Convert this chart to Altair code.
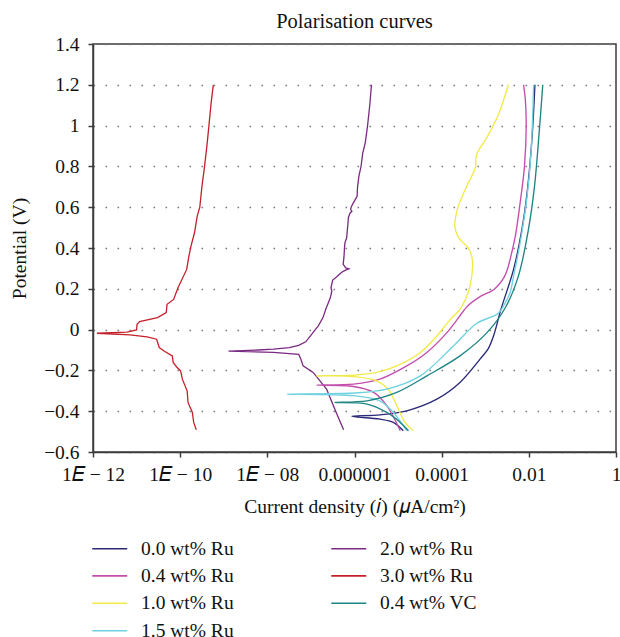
import altair as alt
import pandas as pd

# Series names and line colours
SERIES = ["0.0 wt% Ru", "0.4 wt% Ru", "1.0 wt% Ru", "1.5 wt% Ru",
          "2.0 wt% Ru", "3.0 wt% Ru", "0.4 wt% VC"]
COLORS = ["#2a2a78", "#c24ead", "#f2ea48", "#70d2e0",
          "#7a2a82", "#c4202a", "#1f8484"]

# Potential sweep (V) and log10 of current density for each alloy,
# listed in sweep order from the cathodic end upwards.
ru00_E = [-0.496, -0.455, -0.439, -0.425, -0.418, -0.398, -0.341, -0.259,
          -0.145, -0.093, -0.031, 0.099, 0.295, 0.49, 0.67, 0.93, 1.2]
ru00_logi = [-4.88, -5.11, -5.41, -6.06, -5.41, -4.80, -4.11, -3.58,
             -3.12, -2.93, -2.81, -2.64, -2.35, -2.16, -2.04, -1.93, -1.86]

ru04_E = [-0.496, -0.373, -0.308, -0.279, -0.272, -0.267, -0.243, -0.178,
          -0.112, -0.015, 0.091, 0.115, 0.164, 0.197, 0.26, 0.311, 0.344,
          0.458, 0.621, 0.80, 1.012, 1.126, 1.2]
ru04_logi = [-4.95, -5.26, -5.56, -6.02, -6.87, -6.02, -5.42, -4.80,
             -4.34, -3.88, -3.50, -3.41, -3.10, -2.80, -2.56, -2.47, -2.43,
             -2.31, -2.20, -2.10, -2.06, -2.08, -2.12]

ru10_E = [-0.496, -0.455, -0.373, -0.292, -0.251, -0.23, -0.227, -0.223,
          -0.21, -0.178, -0.112, -0.031, 0.05, 0.099, 0.15, 0.213, 0.311,
          0.36, 0.401, 0.43, 0.458, 0.507, 0.55, 0.604, 0.71, 0.792, 0.857,
          0.939, 1.053, 1.2]
ru10_logi = [-4.65, -4.84, -5.03, -5.23, -5.49, -6.02, -6.87, -6.02,
             -5.49, -5.03, -4.49, -4.11, -3.80, -3.58, -3.45, -3.35, -3.29,
             -3.31, -3.39, -3.53, -3.63, -3.70, -3.68, -3.62, -3.41, -3.23,
             -3.20, -2.97, -2.70, -2.47]

ru15_E = [-0.496, -0.406, -0.349, -0.324, -0.316, -0.311, -0.292, -0.227,
          -0.08, 0.03, 0.08, 0.132, 0.181, 0.262, 0.425, 0.653, 0.866, 1.2]
ru15_logi = [-4.80, -5.11, -5.42, -6.02, -7.55, -6.02, -5.26, -4.49,
             -3.73, -3.20, -2.70, -2.54, -2.43, -2.35, -2.20, -2.04, -1.95,
             -1.89]

ru20_E = [-0.491, -0.406, -0.292, -0.21, -0.178, -0.145, -0.121, -0.112,
          -0.106, -0.100, -0.096, -0.088, -0.077, -0.06, -0.031, 0.0, 0.018,
          0.06, 0.10, 0.132, 0.16, 0.189, 0.205, 0.243, 0.26, 0.28, 0.29,
          0.298, 0.302, 0.32, 0.36, 0.40, 0.425, 0.45, 0.474, 0.52, 0.55,
          0.572, 0.58, 0.59, 0.604, 0.62, 0.653, 0.70, 0.751, 0.80, 0.866,
          0.90, 0.92, 1.0, 1.1, 1.2]
ru20_logi = [-6.25, -6.42, -6.64, -6.95, -7.18, -7.23, -7.28, -7.86,
             -8.89, -8.20, -7.86, -7.50, -7.28, -7.12, -7.01, -6.90, -6.83,
             -6.72, -6.66, -6.60, -6.55, -6.52, -6.54, -6.50, -6.40, -6.30,
             -6.22, -6.13, -6.20, -6.26, -6.24, -6.23, -6.22, -6.18, -6.17,
             -6.15, -6.14, -6.10, -6.06, -6.09, -6.07, -6.03, -5.94, -5.93,
             -5.90, -5.85, -5.81, -5.77, -5.75, -5.70, -5.65, -5.61]

ru30_E = [-0.491, -0.455, -0.406, -0.357, -0.30, -0.243, -0.202, -0.186,
          -0.161, -0.129, -0.105, -0.088, -0.047, -0.036, -0.026, -0.018,
          -0.012, -0.002, 0.026, 0.039, 0.059, 0.083, 0.124, 0.148, 0.205,
          0.295, 0.36, 0.41, 0.476, 0.555, 0.6, 0.702, 0.8, 0.914, 1.0,
          1.11, 1.2]
ru30_logi = [-9.63, -9.69, -9.72, -9.82, -9.84, -9.95, -9.99, -10.07,
             -10.16, -10.18, -10.37, -10.48, -10.54, -10.76, -11.15, -11.91,
             -11.22, -11.00, -10.99, -10.93, -10.52, -10.32, -10.30, -10.15,
             -10.05, -9.85, -9.80, -9.75, -9.67, -9.61, -9.55, -9.50, -9.44,
             -9.38, -9.34, -9.29, -9.24]

vc04_E = [-0.496, -0.455, -0.406, -0.365, -0.357, -0.349, -0.308, -0.227,
          -0.129, -0.015, 0.107, 0.262, 0.49, 0.702, 0.947, 1.2]
vc04_logi = [-4.76, -4.95, -5.26, -5.71, -6.45, -5.71, -5.03, -4.34,
             -3.58, -2.96, -2.54, -2.24, -2.01, -1.87, -1.77, -1.68]

curves = {
    "0.0 wt% Ru": (ru00_E, ru00_logi),
    "0.4 wt% Ru": (ru04_E, ru04_logi),
    "1.0 wt% Ru": (ru10_E, ru10_logi),
    "1.5 wt% Ru": (ru15_E, ru15_logi),
    "2.0 wt% Ru": (ru20_E, ru20_logi),
    "3.0 wt% Ru": (ru30_E, ru30_logi),
    "0.4 wt% VC": (vc04_E, vc04_logi),
}

rows = []
for name, (pot, logi) in curves.items():
    for k, (e, li) in enumerate(zip(pot, logi)):
        rows.append({"series": name, "step": k, "E": e, "i": 10.0 ** li})
df = pd.DataFrame(rows)

X_TICKS = [1e-12, 1e-10, 1e-8, 1e-6, 1e-4, 1e-2, 1.0]
X_LABELS = ["1𝐸 − 12", "1𝐸 − 10", "1𝐸 − 08", "0.000001", "0.0001", "0.01", "1"]
Y_TICKS = [-0.6, -0.4, -0.2, 0.0, 0.2, 0.4, 0.6, 0.8, 1.0, 1.2, 1.4]

FONT = "Liberation Serif"
AXIS_COLOR = "#3c3c3c"

label_array = "[" + ",".join("'" + s + "'" for s in X_LABELS) + "]"

x_enc = alt.X(
    "i:Q",
    scale=alt.Scale(type="log", domain=[1e-12, 1.0]),
    axis=alt.Axis(
        values=X_TICKS,
        labelExpr=label_array + "[round(log(datum.value)/LN10/2 + 6)]",
        title="Current density (𝑖) (𝜇A/cm²)",
        grid=False,
        labelOverlap=False,
        labelFlush=False,
        labelBound=False,
        labelPadding=8,
        titlePadding=14,
    ),
)
y_enc = alt.Y(
    "E:Q",
    scale=alt.Scale(domain=[-0.6, 1.4], nice=False, zero=False),
    axis=alt.Axis(
        values=Y_TICKS,
        format="~g",
        title="Potential (V)",
        grid=True,
        gridDash=[1.6, 10.4],
        gridColor="#7a7a7a",
        gridWidth=1.6,
        labelOverlap=False,
        labelFlush=False,
        labelPadding=9,
        titlePadding=14,
    ),
)
color_enc = alt.Color(
    "series:N",
    scale=alt.Scale(domain=SERIES, range=COLORS),
    legend=alt.Legend(
        title=None,
        orient="none",
        legendX=-2,
        legendY=494.5,
        direction="vertical",
        columns=2,
        columnPadding=94,
        rowPadding=7.4,
        padding=0,
        symbolType="M-1,0H3",
        symbolSize=306,
        symbolStrokeWidth=1.6,
        labelOffset=30,
        labelFont=FONT,
        labelFontSize=19.5,
        labelColor="#111111",
    ),
)

base = alt.Chart(df).encode(
    x=x_enc, y=y_enc, color=color_enc, order=alt.Order("step:Q"),
    detail="series:N",
)

smooth = base.transform_filter(
    alt.FieldOneOfPredicate(field="series", oneOf=["0.0 wt% Ru", "0.4 wt% Ru",
                                                  "1.0 wt% Ru", "1.5 wt% Ru",
                                                  "0.4 wt% VC"])
).mark_line(strokeWidth=1.35, interpolate="catmull-rom")

rough = base.transform_filter(
    alt.FieldOneOfPredicate(field="series", oneOf=["2.0 wt% Ru", "3.0 wt% Ru"])
).mark_line(strokeWidth=1.3, interpolate="linear")

chart = (
    alt.layer(rough, smooth)
    .properties(
        width=523,
        height=408,
        title=alt.TitleParams(
            "Polarisation curves", font=FONT, fontSize=20.5, fontWeight="normal",
            color="#111111", anchor="middle", offset=2,
        ),
        autosize=alt.AutoSizeParams(type="none"),
        padding={"left": 93, "top": 44, "right": 4, "bottom": 185},
    )
    .configure_view(stroke=AXIS_COLOR, strokeWidth=1.5)
    .configure_axis(
        domainColor=AXIS_COLOR, domainWidth=1.5,
        tickColor=AXIS_COLOR, tickWidth=1.5, tickSize=5,
        labelFont=FONT, labelFontSize=19.5, labelColor="#111111",
        titleFont=FONT, titleFontSize=19.5, titleFontWeight="normal",
        titleColor="#111111",
    )
)

chart.save("out.html", embed_options={"renderer": "svg", "actions": False})
